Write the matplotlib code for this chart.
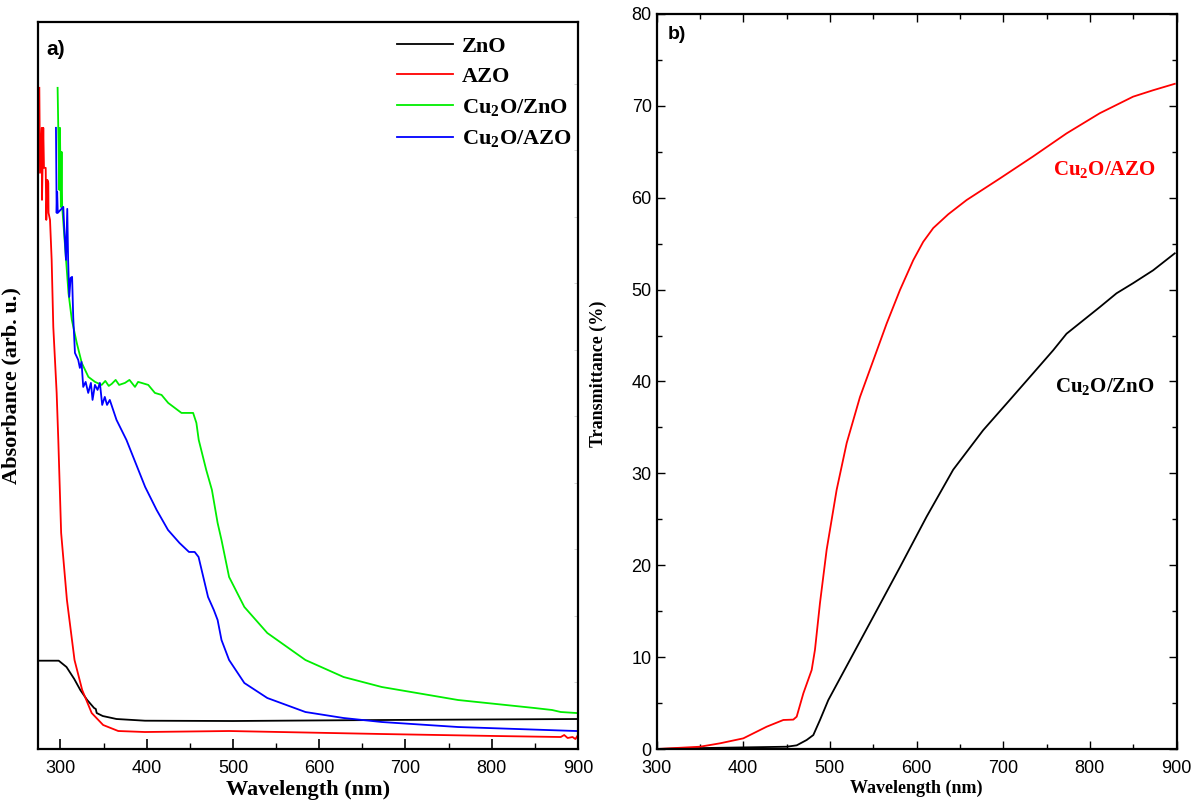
import matplotlib
matplotlib.use("Agg")
import matplotlib.pyplot as plt
from matplotlib.ticker import MultipleLocator

# ---- (a) absorbance, arbitrary units ----
zno_wl = [274, 298, 307, 316, 323, 331, 339, 341, 342, 349, 365, 398, 500, 672, 900]
zno_abs = [0.883, 0.883, 0.82, 0.70, 0.59, 0.49, 0.41, 0.40, 0.36, 0.33, 0.30, 0.283, 0.28, 0.29, 0.30]

azo_wl = [275.5, 276.3, 278.3, 278.6, 280.1, 280.9, 282.9, 283.6, 284.8, 285.9, 286.2, 287.9,
          289.8, 291.7, 295.6, 297.5, 300.8, 307.5, 316.3, 325.2, 336.2, 349.5, 367, 398,
          495.5, 672.5, 805, 880, 884, 888, 893.6, 897, 900]
azo_abs = [6.61, 5.76, 6.21, 5.49, 6.21, 5.81, 5.81, 5.29, 5.69, 5.66, 5.36, 5.29,
           4.89, 4.22, 3.56, 3.09, 2.16, 1.49, 0.89, 0.59, 0.36, 0.24, 0.18, 0.17,
           0.18, 0.15, 0.13, 0.12, 0.14, 0.11, 0.12, 0.10, 0.14]

cz_wl = [296.7, 297.9, 298.7, 299.4, 300.5, 301.3, 302, 305.4, 309.3, 313.2, 318.9, 324.7,
         332.4, 340.1, 347.8, 352, 356, 359.4, 364, 368, 374.8, 380, 386.4, 390, 394.1, 401.8,
         409.5, 417.2, 424.9, 440.3, 453.8, 457.6, 460.3, 469, 475.6, 482.2, 486.7, 495.5,
         513.2, 539.8, 584, 628.2, 672.5, 760.9, 849.5, 870, 880, 898]
cz_abs = [6.61, 5.99, 5.59, 6.21, 5.42, 5.97, 5.42, 5.02, 4.56, 4.29, 4.06, 3.86,
          3.72, 3.67, 3.64, 3.68, 3.63, 3.65, 3.69, 3.64, 3.66, 3.69, 3.62, 3.67, 3.66, 3.64,
          3.56, 3.54, 3.46, 3.36, 3.36, 3.26, 3.09, 2.79, 2.59, 2.26, 2.09, 1.72,
          1.42, 1.16, 0.89, 0.72, 0.62, 0.49, 0.41, 0.39, 0.37, 0.36]

ca_wl = [294.8, 295.6, 296.2, 296.9, 303.3, 304.3, 306.4, 307.9, 308.9, 310.2, 311.8, 313.5,
         314.8, 316.8, 320.6, 322.5, 324.4, 326.4, 329.2, 332.2, 335.3, 337.2, 340, 343,
         345.7, 348.4, 351.4, 354, 357.2, 361.1, 365, 376.5, 398.2, 411.5, 424.7, 438,
         449, 455.6, 460.1, 464.5, 471.1, 477.8, 482.2, 486.7, 495.5, 513.2, 539.8, 584,
         628.2, 672.5, 760.9, 898]
ca_abs = [6.21, 5.36, 5.57, 5.36, 5.42, 5.22, 4.89, 5.40, 4.89, 4.52, 4.71, 4.72,
          4.32, 3.96, 3.89, 3.81, 3.87, 3.62, 3.67, 3.56, 3.66, 3.49, 3.64, 3.59,
          3.66, 3.44, 3.52, 3.44, 3.49, 3.39, 3.29, 3.09, 2.62, 2.39, 2.19, 2.06,
          1.97, 1.97, 1.92, 1.76, 1.52, 1.39, 1.29, 1.09, 0.89, 0.66, 0.51, 0.37,
          0.31, 0.27, 0.22, 0.18]

# ---- (b) transmittance ----
ta_wl = [300, 350.2, 373.2, 400.1, 427.1, 446.3, 457.8, 461.7, 469.4, 479, 482.8, 488.6,
         496.3, 507.8, 519.4, 534.7, 550.1, 565.5, 580.9, 596.2, 607.7, 619.3, 636.6,
         657.8, 696.2, 734.6, 773.1, 811.5, 849.9, 873, 898]
ta_t = [0, 0.25, 0.62, 1.16, 2.43, 3.16, 3.2, 3.52, 6.06, 8.6, 10.8, 15.9,
        21.7, 28.2, 33.3, 38.3, 42.3, 46.3, 49.96, 53.2, 55.2, 56.7, 58.2,
        59.75, 62.1, 64.5, 67.0, 69.2, 71.0, 71.7, 72.4]

tz_wl = [300, 350, 450.2, 461.7, 473.2, 480.9, 488.6, 498.2, 523.2, 550.1, 580.9, 611.7,
         642.3, 676.9, 707.7, 734.6, 757.7, 773.1, 811.5, 830.8, 849.9, 873, 898]
tz_t = [0, 0.1, 0.25, 0.4, 0.98, 1.52, 3.16, 5.33, 9.7, 14.4, 19.8, 25.3,
        30.4, 34.7, 38.0, 40.9, 43.4, 45.2, 48.1, 49.6, 50.7, 52.1, 53.95]

serif = ["Liberation Serif", "DejaVu Serif"]
sans = ["Liberation Sans", "DejaVu Sans"]
plt.rcParams["font.family"] = sans
plt.rcParams["mathtext.fontset"] = "custom"
plt.rcParams["mathtext.rm"] = "Liberation Serif:bold"
plt.rcParams["mathtext.bf"] = "Liberation Serif:bold"

fig = plt.figure(figsize=(11.92, 8.08), dpi=100)
ax1 = fig.add_axes([0.0319, 0.073, 0.453, 0.900])
ax2 = fig.add_axes([0.5508, 0.073, 0.4362, 0.9097])

lw = 1.3
ax1.plot(zno_wl, zno_abs, color="black", lw=lw, label="ZnO")
ax1.plot(azo_wl, azo_abs, color="#ff0000", lw=lw, label="AZO")
ax1.plot(cz_wl, cz_abs, color="#00ee00", lw=lw, label=r"Cu$_2$O/ZnO")
ax1.plot(ca_wl, ca_abs, color="#0000ff", lw=lw, label=r"Cu$_2$O/AZO")

ax1.set_xlim(274, 900)
ax1.set_ylim(0, 7.27)
ax1.xaxis.set_major_locator(MultipleLocator(100))
ax1.xaxis.set_minor_locator(MultipleLocator(50))
ax1.yaxis.set_major_locator(MultipleLocator(0.665))
ax1.tick_params(axis="x", which="both", direction="in", labelsize=13, pad=8)
ax1.tick_params(axis="x", which="major", length=7, width=1.2)
ax1.tick_params(axis="x", which="minor", length=4, width=1.0)
ax1.tick_params(axis="y", left=False, labelleft=False, right=True, direction="in",
                length=3, width=0.6, colors="#cccccc")
ax1.set_xlabel("Wavelength (nm)", family=serif, fontweight="bold", fontsize=16, labelpad=2)
ax1.set_ylabel("Absorbance (arb. u.)", family=serif, fontweight="bold", fontsize=16)
ax1.yaxis.set_label_coords(-0.03, 0.5)
ax1.text(0.015, 0.975, "a)", transform=ax1.transAxes, fontsize=15, fontweight="bold",
         va="top", ha="left")
ax1.legend(loc="upper right", frameon=False, prop={"family": serif, "weight": "bold", "size": 16},
           handlelength=2.5, handletextpad=0.4, labelspacing=0.45,
           bbox_to_anchor=(1.025, 1.008))

ax2.plot(tz_wl, tz_t, color="black", lw=lw)
ax2.plot(ta_wl, ta_t, color="#ff0000", lw=lw)
ax2.set_xlim(300, 900)
ax2.set_ylim(0, 80)
ax2.xaxis.set_major_locator(MultipleLocator(100))
ax2.xaxis.set_minor_locator(MultipleLocator(50))
ax2.yaxis.set_major_locator(MultipleLocator(10))
ax2.yaxis.set_minor_locator(MultipleLocator(5))
ax2.tick_params(which="both", direction="in", top=True, right=True, labelsize=13)
ax2.tick_params(which="major", length=6, width=1.0)
ax2.tick_params(which="minor", length=3.5, width=1.0)
ax2.tick_params(axis="x", pad=8)
ax2.set_xlabel("Wavelength (nm)", family=serif, fontweight="bold", fontsize=13, labelpad=2)
ax2.set_ylabel("Transmittance (%)", family=serif, fontweight="bold", fontsize=13)
ax2.yaxis.set_label_coords(-0.095, 0.51)
ax2.text(0.022, 0.983, "b)", transform=ax2.transAxes, fontsize=14, fontweight="bold",
         va="top", ha="left")
ax2.text(817, 63.0, r"Cu$_2$O/AZO", color="#ff0000", family=serif, fontweight="bold",
         fontsize=15, ha="center", va="center")
ax2.text(817, 39.4, r"Cu$_2$O/ZnO", color="black", family=serif, fontweight="bold",
         fontsize=15, ha="center", va="center")

for ax in (ax1, ax2):
    for s in ax.spines.values():
        s.set_linewidth(1.6)

fig.savefig("out.png", dpi=100)
